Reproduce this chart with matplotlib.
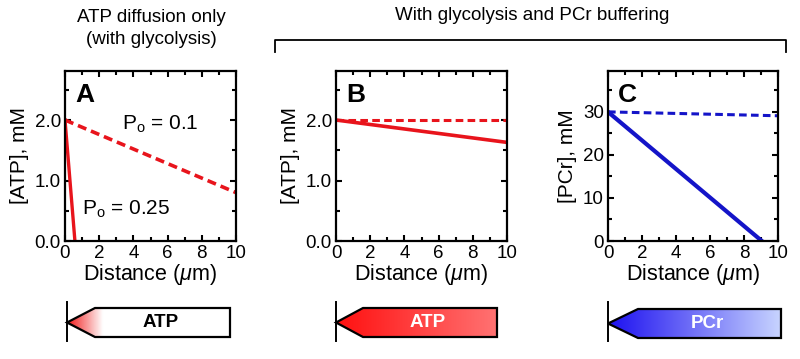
import numpy as np
import matplotlib
matplotlib.use("Agg")
import matplotlib.pyplot as plt
from matplotlib.patches import Polygon
from matplotlib.ticker import MultipleLocator

plt.rcParams['font.family'] = ['Liberation Sans', 'DejaVu Sans']
plt.rcParams['mathtext.fontset'] = 'custom'
plt.rcParams['mathtext.rm'] = 'Liberation Sans'
plt.rcParams['mathtext.it'] = 'Liberation Sans:italic'

# --- data ---
# panel A: ATP diffusion only
a_x_po01 = [0, 10]
a_y_po01 = [2.0, 0.8]
a_x_po025 = [0, 0.58]
a_y_po025 = [2.0, 0.0]
# panel B: ATP with glycolysis and PCr buffering
b_x = [0, 10]
b_y_dashed = [2.0, 2.0]
b_y_solid = [2.0, 1.63]
# panel C: PCr
c_x_dashed = [0, 10]
c_y_dashed = [30, 29.1]
c_x_solid = [0, 9.05]
c_y_solid = [30, 0]

RED = '#e8141c'
BLUE = '#1414c8'
DASH = (0, (2.5, 1.4))

fig = plt.figure(figsize=(8.0, 3.59), dpi=100)
W, H = 800, 359


def px_axes(left, right, top, bottom):
    return fig.add_axes([left / W, 1 - bottom / H, (right - left) / W, (bottom - top) / H])


def style(ax, ymax, ymajor, yminor, yfmt, ylabel, letter):
    ax.set_xlim(0, 10)
    ax.set_ylim(0, ymax)
    ax.xaxis.set_major_locator(MultipleLocator(2))
    ax.xaxis.set_minor_locator(MultipleLocator(1))
    ax.yaxis.set_major_locator(MultipleLocator(ymajor))
    ax.yaxis.set_minor_locator(MultipleLocator(yminor))
    ax.yaxis.set_major_formatter(yfmt)
    ax.tick_params(which='both', direction='in', top=True, right=True, width=1.5,
                   labelsize=13.5, pad=3)
    ax.tick_params(which='major', length=4.5)
    ax.tick_params(which='minor', length=3)
    for s in ax.spines.values():
        s.set_linewidth(1.6)
    ax.set_xlabel('Distance ($\\mu$m)', fontsize=15.5, labelpad=0)
    ax.set_ylabel(ylabel, fontsize=15, labelpad=4)
    ax.text(0.06, 0.93, letter, transform=ax.transAxes, fontsize=19,
            fontweight='bold', ha='left', va='top')


axA = px_axes(65, 236, 71, 241)
axA.plot(a_x_po01, a_y_po01, color=RED, lw=2.6, ls=DASH)
axA.plot(a_x_po025, a_y_po025, color=RED, lw=2.4)
style(axA, 2.81, 1.0, 0.5, '{x:.1f}', '[ATP], mM', 'A')
axA.text(5.55, 1.92, 'P$_\\mathrm{o}$ = 0.1', fontsize=15, ha='center', va='center')
axA.text(3.6, 0.52, 'P$_\\mathrm{o}$ = 0.25', fontsize=15, ha='center', va='center')

axB = px_axes(336, 507, 71, 241)
axB.plot(b_x, b_y_dashed, color=RED, lw=2.2, ls=DASH)
axB.plot(b_x, b_y_solid, color=RED, lw=2.6)
style(axB, 2.81, 1.0, 0.5, '{x:.1f}', '[ATP], mM', 'B')

axC = px_axes(608, 778, 71, 241)
axC.plot(c_x_dashed, c_y_dashed, color=BLUE, lw=2.2, ls=DASH)
axC.plot(c_x_solid, c_y_solid, color=BLUE, lw=3.0)
style(axC, 39.5, 10, 5, '{x:.0f}', '[PCr], mM', 'C')

# overlay in pixel coords for titles, bracket and arrows
ov = fig.add_axes([0, 0, 1, 1], zorder=-1)
ov.set_xlim(0, W)
ov.set_ylim(H, 0)
ov.axis('off')

ov.text(151, 18, 'ATP diffusion only', fontsize=13.5, ha='center', va='center')
ov.text(151, 39, '(with glycolysis)', fontsize=13.5, ha='center', va='center')
ov.text(532, 16, 'With glycolysis and PCr buffering', fontsize=13.5, ha='center', va='center')
ov.plot([275, 275, 786, 786], [52, 40, 40, 52], color='black', lw=1.3)


def arrow(x0, x1, shoulder, y_top, y_bot, c0, c1, fade, label, tcolor):
    ymid = (y_top + y_bot) / 2
    ov.plot([x0, x0], [302, 341], color='black', lw=1.4, zorder=4)
    verts = [(x0, ymid), (shoulder, y_top), (x1, y_top), (x1, y_bot), (shoulder, y_bot)]
    poly = Polygon(verts, closed=True, facecolor='none', edgecolor='black', lw=1.6, zorder=3)
    ov.add_patch(poly)
    xs = np.linspace(0, 1, 256)
    t = np.clip(xs / fade, 0, 1)
    c0 = np.array(matplotlib.colors.to_rgb(c0))
    c1 = np.array(matplotlib.colors.to_rgb(c1))
    img = (c0[None, :] * (1 - t[:, None]) + c1[None, :] * t[:, None])[None, :, :]
    im = ov.imshow(img, extent=[x0, x1, y_bot, y_top], aspect='auto', zorder=2,
                   interpolation='bilinear')
    im.set_clip_path(poly)
    ov.text((shoulder + x1) / 2 - 2, ymid, label, fontsize=13.5, fontweight='bold',
            color=tcolor, ha='center', va='center', zorder=5)


arrow(67, 230, 95, 308, 337, '#f01818', '#ffffff', 0.22, 'ATP', 'black')
arrow(336, 497, 363, 308, 337, '#ff1010', '#ff7272', 1.0, 'ATP', 'white')
arrow(608, 781, 638, 309, 338, '#1c10f0', '#c8d4ff', 1.0, 'PCr', 'white')
ov.set_xlim(0, W)
ov.set_ylim(H, 0)

fig.savefig('out.png', dpi=100)
